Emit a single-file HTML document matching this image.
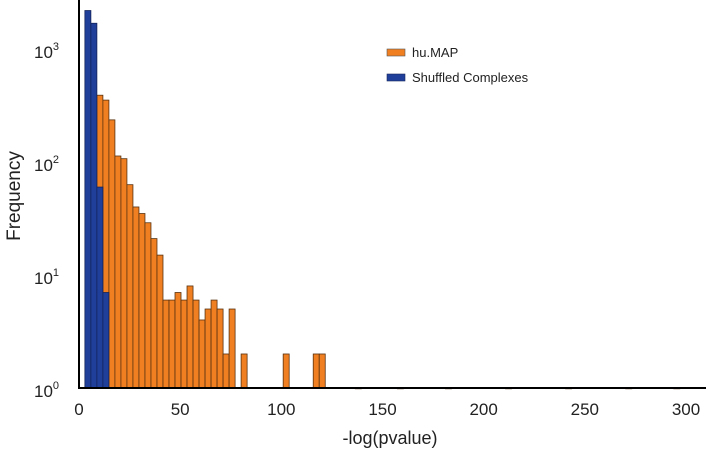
<!DOCTYPE html>
<html><head><meta charset="utf-8"><style>
body{margin:0;background:#fff;}
svg{display:block;font-family:"Liberation Sans",Arial,sans-serif;}
</style></head><body>
<svg id="chart" width="709" height="451">
<g id="bars"></g>
<g id="axes"></g>
<text x="390" y="444" font-size="18" text-anchor="middle" fill="#222">-log(pvalue)</text>
<text transform="translate(20,196) rotate(-90)" font-size="19" text-anchor="middle" fill="#222">Frequency</text>
<g>
<rect x="387" y="49" width="18" height="7" fill="#f07f22" stroke="#555" stroke-width="0.6"/>
<text x="412" y="57" font-size="13" fill="#222">hu.MAP</text>
<rect x="387" y="74" width="18" height="7" fill="#203f9a" stroke="#1a2a60" stroke-width="0.6"/>
<text x="412" y="82" font-size="13" fill="#222">Shuffled Complexes</text>
</g>
</svg>
<script>
const binStart = 2.9;
const binWidth = 2.97;
const shuffledBins = [0,1,2,3];
const shuffledCounts = [2190,1690,60,7];
const humapBins = [2,3,4,5,6,7,8,9,10,11,12,13,14,15,16,17,18,19,20,21,22,23,24,26,33,38,39,45,52,60,70,80,90,98];
const humapCounts = [390,353,236,113,107,63,40,35,29,21,15,6,6,7,6,8,6,4,5,6,5,2,5,2,2,2,2,1,1,1,1,1,1,1];
const xTicks = [0,50,100,150,200,250,300];
const yTicks = [0,1,2,3];

const X0=79, XS=(686-79)/300, YB=388, YD=113;
const xs=v=>X0+v*XS;
const ys=c=>YB-Math.log10(c)*YD;
const NS='http://www.w3.org/2000/svg';
const bars=document.getElementById('bars');
const axes=document.getElementById('axes');
function bar(bin,count,fill,stroke,name){
  const r=document.createElementNS(NS,'rect');
  const x1=xs(binStart+bin*binWidth), x2=xs(binStart+(bin+1)*binWidth);
  const y=ys(count);
  r.setAttribute('x',x1);r.setAttribute('width',x2-x1);
  r.setAttribute('y',y);r.setAttribute('height',Math.max(YB-y,0.8));
  r.setAttribute('fill',fill);r.setAttribute('stroke',stroke);r.setAttribute('stroke-width','0.8');
  
  
  bars.appendChild(r);
}
humapBins.forEach((b,i)=>bar(b,humapCounts[i],'#f07f22','#5a3310','bar-humap-'+b));
shuffledBins.forEach((b,i)=>bar(b,shuffledCounts[i],'#203f9a','#14245a','bar-shuffled-'+b));
function line(x1,y1,x2,y2,name){
  const l=document.createElementNS(NS,'line');
  l.setAttribute('x1',x1);l.setAttribute('y1',y1);l.setAttribute('x2',x2);l.setAttribute('y2',y2);
  l.setAttribute('stroke','#000');l.setAttribute('stroke-width','2');
  
  
  axes.appendChild(l);
}
line(X0,0,X0,YB+1,'y-axis-line');
line(X0-1,YB,706,YB,'x-axis-line');
xTicks.forEach(t=>{
  const tx=document.createElementNS(NS,'text');
  tx.setAttribute('x',xs(t));tx.setAttribute('y',415);
  tx.setAttribute('font-size','17');tx.setAttribute('text-anchor','middle');tx.setAttribute('fill','#222');
  tx.textContent=t;
  
  
  axes.appendChild(tx);
});
yTicks.forEach(t=>{
  const tx=document.createElementNS(NS,'text');
  const y=YB-t*YD+9;
  tx.setAttribute('x',34);tx.setAttribute('y',y);
  tx.setAttribute('font-size','17');tx.setAttribute('fill','#222');
  tx.innerHTML='10<tspan font-size="11" dy="-8">'+t+'</tspan>';
  
  
  axes.appendChild(tx);
});
</script>
</body></html>
